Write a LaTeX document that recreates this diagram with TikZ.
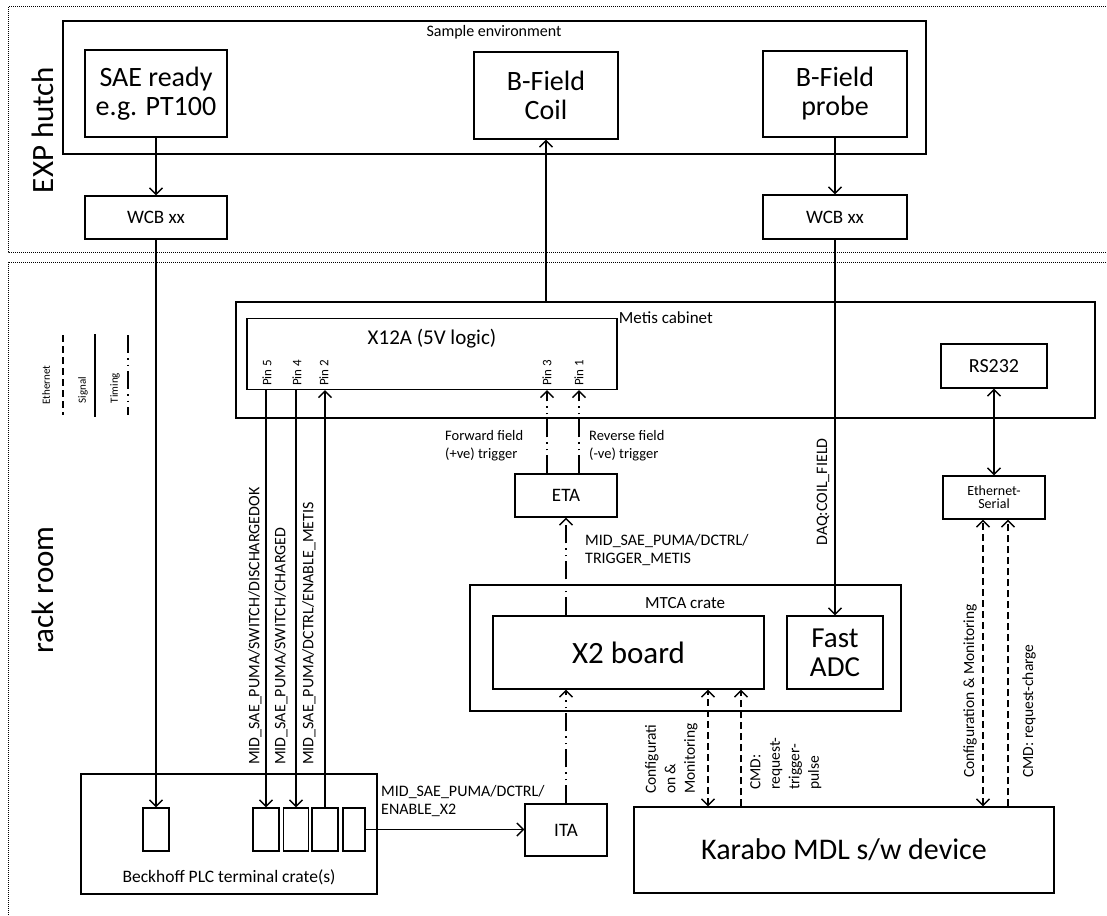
\documentclass[tikz,border=0pt]{standalone}
\usepackage{fontspec}
\setmainfont{Carlito}
\usetikzlibrary{arrows.meta}
\newcommand\myfs[2]{\fontsize{#1}{#2}\selectfont}
\begin{document}
\begin{tikzpicture}[x=1pt,y=-1pt,
  >={Straight Barb[length=6.5pt,width=13pt]},
  box/.style={draw, line width=1.4pt, inner sep=0pt, align=center},
  txt/.style={inner sep=0pt, align=center},
  rtxt/.style={inner sep=0pt, rotate=90},
  zone/.style={line width=1pt, dash pattern=on 1pt off 1pt},
  sig/.style={line width=1.4pt},
  eth/.style={line width=1.4pt, dash pattern=on 7pt off 4pt},
  tim/.style={line width=1.4pt, dash pattern=on 18pt off 5pt on 1.5pt off 5pt on 1.5pt off 5pt}
]
\useasboundingbox (0,0) rectangle (1107,915);
\clip (0,0) rectangle (1107,915);

% zones
\draw[zone] (8,7) rectangle (1130,252);
\draw[zone] (8,262) rectangle (1130,940);
\node[rtxt, font=\myfs{31}{31}] (exp) at (43,130) {EXP hutch};
\node[rtxt, font=\myfs{31}{31}] (rack) at (43,590) {rack room};

% legend
\node[rtxt, font=\myfs{11}{11}] (legE) at (46,385) {Ethernet};
\node[rtxt, font=\myfs{11}{11}] (legS) at (83,390) {Signal};
\node[rtxt, font=\myfs{11}{11}] (legT) at (115,388) {Timing};
\coordinate (le1) at (63,335); \coordinate (le2) at (63,415);
\coordinate (ls1) at (95,334); \coordinate (ls2) at (95,417);
\coordinate (lt1) at (128,335); \coordinate (lt2) at (128,415);
\draw[eth] (le1) -- (le2);
\draw[sig] (ls1) -- (ls2);
\draw[tim] (lt1) -- (lt2);

% EXP hutch
\node[box, minimum width=863pt, minimum height=133pt] (samp) at (494.5,87.5) {};
\node[txt, font=\myfs{16}{16}] (sampl) at (494,32) {Sample environment};
\node[box, minimum width=142pt, minimum height=87pt, font=\myfs{28}{29}] (sae) at (156,93.5) {SAE ready\\e.g. PT100};
\node[box, minimum width=144pt, minimum height=87pt, font=\myfs{28}{29}] (coil) at (546,95.5) {B-Field\\Coil};
\node[box, minimum width=144pt, minimum height=86pt, font=\myfs{28}{29}] (probe) at (835,94) {B-Field\\probe};
\node[box, minimum width=142pt, minimum height=43pt, font=\myfs{19}{19}] (wcb1) at (156,217.5) {WCB xx};
\node[box, minimum width=144pt, minimum height=44pt, font=\myfs{19}{19}] (wcb2) at (835,217) {WCB xx};

% Metis cabinet
\node[box, minimum width=859pt, minimum height=116pt] (metis) at (665.5,360) {};
\node[box, minimum width=370pt, minimum height=71pt] (x12a) at (432,354) {};
\node[txt, font=\myfs{21}{21}] (x12al) at (432,339) {X12A (5V logic)};
\node[txt, font=\myfs{17}{17}, anchor=west] (metisl) at ([xshift=1pt]x12a.north east) {Metis cabinet};
\node[rtxt, font=\myfs{13}{13}, anchor=west] (p5) at (267,386) {Pin 5};
\node[rtxt, font=\myfs{13}{13}, anchor=west] (p4) at (297,386) {Pin 4};
\node[rtxt, font=\myfs{13}{13}, anchor=west] (p2) at (324,386) {Pin 2};
\node[rtxt, font=\myfs{13}{13}, anchor=west] (p3) at (547,386) {Pin 3};
\node[rtxt, font=\myfs{13}{13}, anchor=west] (p1) at (579,386) {Pin 1};
\node[box, minimum width=106pt, minimum height=44pt, font=\myfs{20}{20}] (rs232) at (994,366) {RS232};

% middle
\node[box, minimum width=102pt, minimum height=43pt, font=\myfs{14}{13}] (etaser) at (994,497.5) {Ethernet-\\Serial};
\node[box, minimum width=102pt, minimum height=43pt, font=\myfs{19}{19}] (eta) at (566,495.5) {ETA};
\node[box, minimum width=431pt, minimum height=126pt] (mtca) at (685.5,648) {};
\node[txt, font=\myfs{17}{17}] (mtcal) at (685,603) {MTCA crate};
\node[box, minimum width=271pt, minimum height=73pt, font=\myfs{31}{31}] (x2) at (628.5,652.5) {X2 board};
\node[box, minimum width=96pt, minimum height=73pt, font=\myfs{29}{29}] (adc) at (835,652.5) {Fast\\ADC};
\node[box, minimum width=82pt, minimum height=52pt, font=\myfs{19}{19}] (ita) at (566,830) {ITA};
\node[box, minimum width=420pt, minimum height=86pt, font=\myfs{30}{30}] (karabo) at (844,850) {Karabo MDL s/w device};

% Beckhoff
\node[box, minimum width=296pt, minimum height=120pt] (beck) at (229,834) {};
\node[txt, font=\myfs{17.5}{17.5}] (beckl) at (229,877) {Beckhoff PLC terminal crate(s)};
\node[box, minimum width=26pt, minimum height=43pt] (s1) at (156,829.5) {};
\node[box, minimum width=26pt, minimum height=43pt] (s2) at (266,829.5) {};
\node[box, minimum width=25pt, minimum height=43pt] (s3) at (296,829.5) {};
\node[box, minimum width=26pt, minimum height=43pt] (s4) at (325,829.5) {};
\node[box, minimum width=22pt, minimum height=43pt] (s5) at (354,829.5) {};

% signal connectors
\draw[sig,->] (sae) -- (wcb1);
\draw[sig,->] (wcb1) -- (s1);
\draw[sig,->] (coil.south |- metis.north) -- (coil.south);
\draw[sig,->] (probe) -- (wcb2);
\draw[sig,->] (wcb2) -- (adc);
\draw[sig,->] (s2.north |- x12a.south) -- (s2.north);
\draw[sig,->] (s3.north |- x12a.south) -- (s3.north);
\draw[sig,->] (s4.north) -- (s4.north |- x12a.south);
\draw[sig,->] (s5.east) -- (s5.east -| ita.west);
\draw[sig,<->] (rs232) -- (etaser);

% timing connectors
\draw[tim,->] (ita.north) -- (ita.north |- x2.south);
\draw[tim,->] (eta.south |- x2.north) -- (eta.south);
\draw[tim,->] ([xshift=-19pt]eta.north) -- ([xshift=-19pt]eta.north |- x12a.south);
\draw[tim,->] ([xshift=13pt]eta.north) -- ([xshift=13pt]eta.north |- x12a.south);

% ethernet connectors
\draw[eth,<->] ([xshift=-136pt]karabo.north) -- ([xshift=-136pt]karabo.north |- x2.south);
\draw[eth,->] ([xshift=-103pt]karabo.north) -- ([xshift=-103pt]karabo.north |- x2.south);
\draw[eth,<->] ([xshift=139pt]karabo.north) -- ([xshift=139pt]karabo.north |- etaser.south);
\draw[eth,->] ([xshift=164pt]karabo.north) -- ([xshift=164pt]karabo.north |- etaser.south);

% labels
\node[txt, font=\myfs{14.5}{18}, align=left, anchor=west] (fwd) at (445,446) {Forward field\\(+ve) trigger};
\node[txt, font=\myfs{14.5}{18}, align=left, anchor=west] (rev) at (589,446) {Reverse field\\(-ve) trigger};
\node[txt, font=\myfs{16}{18.5}, align=left, anchor=west] (trig) at (585,550) {MID\_SAE\_PUMA/DCTRL/\\TRIGGER\_METIS};
\node[txt, font=\myfs{16}{18.5}, align=left, anchor=west] (enx2) at (381,801) {MID\_SAE\_PUMA/DCTRL/\\ENABLE\_X2};
\node[rtxt, font=\myfs{16}{16}] (daq) at (823,492) {DAQ:COIL\_FIELD};
\node[rtxt, font=\myfs{16}{16}, anchor=west] (l5) at (255,765) {MID\_SAE\_PUMA/SWITCH/DISCHARGEDOK};
\node[rtxt, font=\myfs{16}{16}, anchor=west] (l4) at (281,765) {MID\_SAE\_PUMA/SWITCH/CHARGED};
\node[rtxt, font=\myfs{16}{16}, anchor=west] (l2) at (309,765) {MID\_SAE\_PUMA/DCTRL/ENABLE\_METIS};
\node[rtxt, font=\myfs{15.5}{19.5}, align=left, anchor=north west] (cfg1) at (645,794) {Configurati\\on \&\\Monitoring};
\node[rtxt, font=\myfs{15.5}{19.5}, align=left, anchor=north west] (cmd1) at (750,790) {CMD:\\request-\\trigger-\\pulse};
\node[rtxt, font=\myfs{15.5}{15.5}] (cfg2) at (970,691) {Configuration \& Monitoring};
\node[rtxt, font=\myfs{15.5}{15.5}] (cmd2) at (1029,711) {CMD: request-charge};
\end{tikzpicture}
\end{document}
